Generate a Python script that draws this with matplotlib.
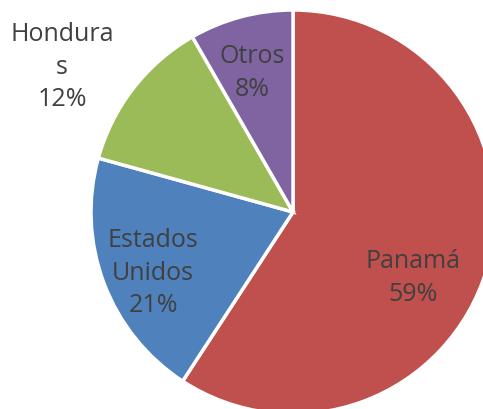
import matplotlib
matplotlib.use("Agg")
import matplotlib.pyplot as plt

labels = ["Panamá", "Estados Unidos", "Honduras", "Otros"]
values = [59.2, 20.1, 12.4, 8.3]
colors = ["#C0504D", "#4F81BD", "#9BBB59", "#8064A2"]
label_texts = ["Panamá\n59%", "Estados\nUnidos\n21%", "Hondura\ns\n12%", "Otros\n8%"]
label_pos = [(413, 278), (153, 273), (62, 67), (252, 73)]

W, H = 483, 409
fig = plt.figure(figsize=(W / 100, H / 100), dpi=100)
ax = fig.add_axes([0, 0, 1, 1])
ax.pie(values, colors=colors, startangle=90, counterclock=False,
       center=(293, H - 212), radius=202,
       wedgeprops=dict(edgecolor="white", linewidth=2.5))
ax.set_xlim(0, W)
ax.set_ylim(0, H)
ax.set_aspect("equal")
ax.axis("off")
for t, (x, y) in zip(label_texts, label_pos):
    ax.text(x, H - y, t, ha="center", va="center", fontsize=18,
            family="Open Sans", color="#404040", linespacing=1.42)
fig.savefig("out.png", dpi=100)
